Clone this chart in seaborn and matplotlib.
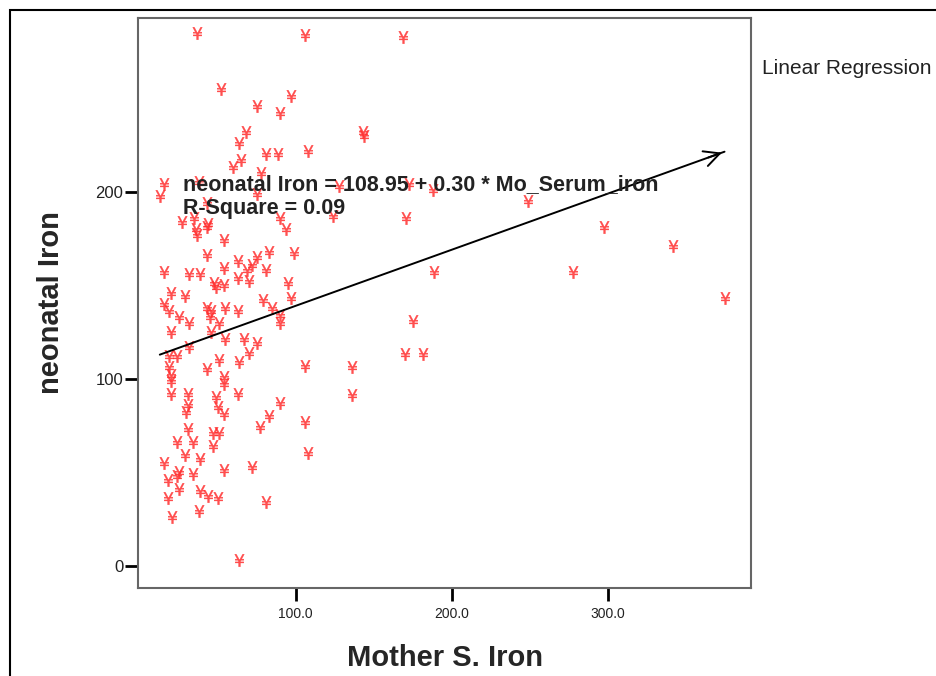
import numpy as np
import pandas as pd
import seaborn as sns
import matplotlib
matplotlib.use("Agg")
import matplotlib.pyplot as plt
from matplotlib.patches import Rectangle

# values (mother serum iron vs neonatal iron)
mother_iron = [37, 106, 169, 52, 97, 75, 90, 143, 144, 68, 64, 81, 89, 108, 65, 60, 78,
               16, 13, 38, 75, 43, 128, 173, 188, 249, 124, 171, 298, 342, 278, 375, 189,
               175, 170, 182, 136, 136, 27, 35, 44, 36, 37, 43, 90, 94, 54, 83, 99, 43,
               63, 75, 72, 69, 54, 81, 16, 32, 39, 63, 70, 48, 49, 54, 20, 29, 95, 79,
               97, 16, 19, 25, 32, 43, 46, 55, 51, 45, 63, 85, 90, 90, 20, 46, 55, 67,
               75, 32, 24, 19, 19, 51, 70, 64, 43, 106, 20, 20, 54, 54, 20, 31, 49, 63,
               31, 30, 50, 54, 90, 83, 106, 77, 31, 47, 51, 24, 34, 47, 29, 39, 16, 108,
               25, 24, 18, 34, 54, 72, 25, 39, 44, 50, 18, 81, 38, 21, 64]
neonatal_iron = [285, 284, 283, 255, 251, 246, 242, 232, 230, 232, 226, 220, 220, 222, 217,
                 213, 210, 204, 198, 205, 199, 194, 203, 204, 201, 195, 187, 186, 181, 171,
                 157, 143, 157, 131, 113, 113, 106, 91, 184, 186, 183, 180, 177, 181, 186,
                 180, 174, 168, 167, 166, 163, 165, 161, 158, 159, 158, 157, 156, 156, 154,
                 152, 151, 149, 150, 146, 144, 151, 142, 143, 140, 136, 133, 130, 138, 136,
                 138, 130, 133, 136, 138, 134, 130, 125, 125, 121, 121, 119, 117, 112, 112,
                 106, 110, 114, 109, 105, 107, 102, 99, 101, 97, 92, 92, 90, 92, 86, 82, 85,
                 81, 87, 80, 77, 74, 73, 71, 71, 66, 66, 64, 59, 57, 55, 60, 50, 48, 46, 49,
                 51, 53, 41, 40, 37, 36, 36, 34, 29, 26, 3]

intercept = 108.95
slope = 0.30
r_square = 0.09

x_ticks = [100, 200, 300]
x_tick_labels = ["100.0", "200.0", "300.0"]
y_ticks = [0, 100, 200]
y_tick_labels = ["0", "100", "200"]

df = pd.DataFrame({"Mo_Serum_iron": mother_iron, "neonatal_iron": neonatal_iron})

sns.set_style("white")
plt.rcParams["font.family"] = ["Liberation Sans", "DejaVu Sans"]

fig = plt.figure(figsize=(9.36, 6.76), dpi=100)
ax = fig.add_axes([0.1474, 0.1302, 0.655, 0.8432])

sns.scatterplot(data=df, x="Mo_Serum_iron", y="neonatal_iron", marker="$¥$",
                color="#ff3030", edgecolor="#ff3030", linewidth=0.3, s=80, alpha=0.85,
                ax=ax, legend=False)

# fitted line
fit = pd.DataFrame({"x": [df["Mo_Serum_iron"].min(), df["Mo_Serum_iron"].max()]})
fit["y"] = intercept + slope * fit["x"]
sns.lineplot(data=fit, x="x", y="y", color="black", lw=1.4, ax=ax)
x_end = fit["x"].iloc[1]
ax.annotate("", xy=(x_end, intercept + slope * x_end),
            xytext=(x_end - 12, intercept + slope * (x_end - 12)),
            arrowprops=dict(arrowstyle="->", color="black", lw=1.4, mutation_scale=28))

ax.set_xlim(-1, 392)
ax.set_ylim(-12, 293)
ax.set_xticks(x_ticks)
ax.set_xticklabels(x_tick_labels)
ax.set_yticks(y_ticks)
ax.set_yticklabels(y_tick_labels)
ax.tick_params(axis="both", direction="out", length=9.5, width=2, color="black",
               labelcolor="#222222", bottom=True, left=True)
ax.tick_params(axis="x", pad=4, labelsize=10)
ax.tick_params(axis="y", pad=1, labelsize=12)

for sp in ax.spines.values():
    sp.set_color("#666666")
    sp.set_linewidth(1.5)

ax.set_xlabel("Mother S. Iron", fontsize=21, fontweight="bold", labelpad=17)
ax.set_ylabel("neonatal Iron", fontsize=21, fontweight="bold", labelpad=22)

ax.text(0.073, 0.707, f"neonatal Iron = {intercept:.2f} + {slope:.2f} * Mo_Serum_iron",
        transform=ax.transAxes, fontsize=15.5, fontweight="bold", color="#222222",
        va="center", ha="left")
ax.text(0.073, 0.665, f"R-Square = {r_square:.2f}",
        transform=ax.transAxes, fontsize=15.5, fontweight="bold", color="#222222",
        va="center", ha="left")

fig.text(0.814, 0.899, "Linear Regression", fontsize=15, color="#222222", va="center")

# outer frame of the exported chart
fig.patches.append(Rectangle((10 / 936, -0.2), 1.5, 1.2 - 10 / 676, transform=fig.transFigure,
                             fill=False, edgecolor="black", lw=1.5))

fig.savefig("out.png", dpi=100)
